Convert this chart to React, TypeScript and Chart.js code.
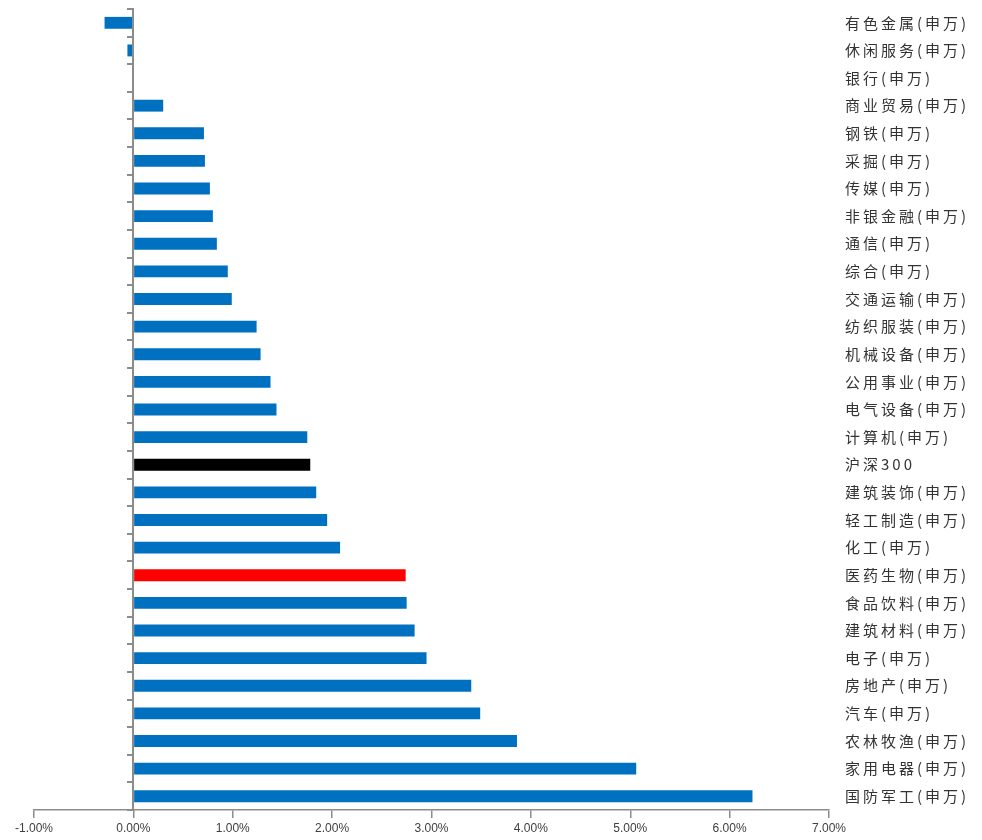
import React, { useEffect, useRef } from "react";
import { Chart, registerables } from "chart.js";

Chart.register(...registerables);

const categories: string[] = [
  "有色金属(申万)", "休闲服务(申万)", "银行(申万)", "商业贸易(申万)", "钢铁(申万)",
  "采掘(申万)", "传媒(申万)", "非银金融(申万)", "通信(申万)", "综合(申万)",
  "交通运输(申万)", "纺织服装(申万)", "机械设备(申万)", "公用事业(申万)", "电气设备(申万)",
  "计算机(申万)", "沪深300", "建筑装饰(申万)", "轻工制造(申万)", "化工(申万)",
  "医药生物(申万)", "食品饮料(申万)", "建筑材料(申万)", "电子(申万)", "房地产(申万)",
  "汽车(申万)", "农林牧渔(申万)", "家用电器(申万)", "国防军工(申万)",
];

const returnsPct: number[] = [
  -0.29, -0.06, 0.0, 0.30, 0.71,
  0.72, 0.77, 0.80, 0.84, 0.95,
  0.99, 1.24, 1.28, 1.38, 1.44,
  1.75, 1.78, 1.84, 1.95, 2.08,
  2.74, 2.75, 2.83, 2.95, 3.40,
  3.49, 3.86, 5.06, 6.23,
];

const BLUE = "#0070C0";
const highlightColors: Record<string, string> = {
  "沪深300": "#000000",
  "医药生物(申万)": "#FF0000",
};

const xMin = -1;
const xMax = 7;
const xStep = 1;

const labelSpacingPlugin = {
  id: "labelSpacing",
  afterDatasetsDraw(chart: any) {
    chart.ctx.letterSpacing = "3px";
  },
  afterDraw(chart: any) {
    chart.ctx.letterSpacing = "0px";
  },
};

export default function App() {
  const canvasRef = useRef<HTMLCanvasElement | null>(null);

  useEffect(() => {
    if (!canvasRef.current) return;
    const colors = categories.map((c) => highlightColors[c] || BLUE);
    const chart = new Chart(canvasRef.current, {
      type: "bar",
      data: {
        labels: categories,
        datasets: [
          {
            data: returnsPct,
            backgroundColor: colors,
            borderWidth: 0,
            barPercentage: 0.43,
            categoryPercentage: 1,
            yAxisID: "y",
            xAxisID: "x",
          },
        ],
      },
      options: {
        indexAxis: "y",
        animation: false,
        responsive: false,
        events: [],
        layout: { padding: { top: 9, left: 34, right: 0, bottom: 0 } },
        plugins: {
          legend: { display: false },
          tooltip: { enabled: false },
        },
        scales: {
          x: {
            type: "linear",
            position: "bottom",
            min: xMin,
            max: xMax,
            ticks: {
              stepSize: xStep,
              callback: (v: any) => Number(v).toFixed(2) + "%",
              color: "#404040",
              font: { family: "Liberation Sans", size: 12 },
              padding: 3,
              maxRotation: 0,
            },
            grid: {
              drawOnChartArea: false,
              drawTicks: true,
              tickLength: 8,
              color: "#8c8c8c",
              lineWidth: 1.5,
            },
            border: { display: true, color: "#8c8c8c", width: 1.5 },
            afterFit: (scale: any) => {
              scale.height = 30;
            },
          },
          y: {
            type: "category",
            position: "right",
            offset: true,
            ticks: {
              color: "#333333",
              font: { family: "Noto Sans CJK SC", size: 15 },
              padding: 0,
              z: 1,
              autoSkip: false,
            },
            grid: { display: false, drawTicks: true, tickLength: 16 },
            border: { display: false },
            afterFit: (scale: any) => {
              scale.width = 153;
            },
          },
          y0: {
            type: "category",
            axis: "y",
            position: { x: 0 },
            offset: true,
            ticks: { display: false },
            grid: {
              offset: true,
              drawOnChartArea: false,
              drawTicks: true,
              tickLength: 5,
              color: "#8c8c8c",
              lineWidth: 2,
              z: 1,
            },
            border: { display: true, color: "#8c8c8c", width: 2, z: 1 },
          },
        },
      },
      plugins: [labelSpacingPlugin],
    } as any);
    return () => chart.destroy();
  }, []);

  return (
    <div style={{ position: "absolute", left: 0, top: 0, width: 982, height: 840, background: "#ffffff" }}>
      <canvas ref={canvasRef} width={982} height={840} style={{ display: "block" }} />
    </div>
  );
}
